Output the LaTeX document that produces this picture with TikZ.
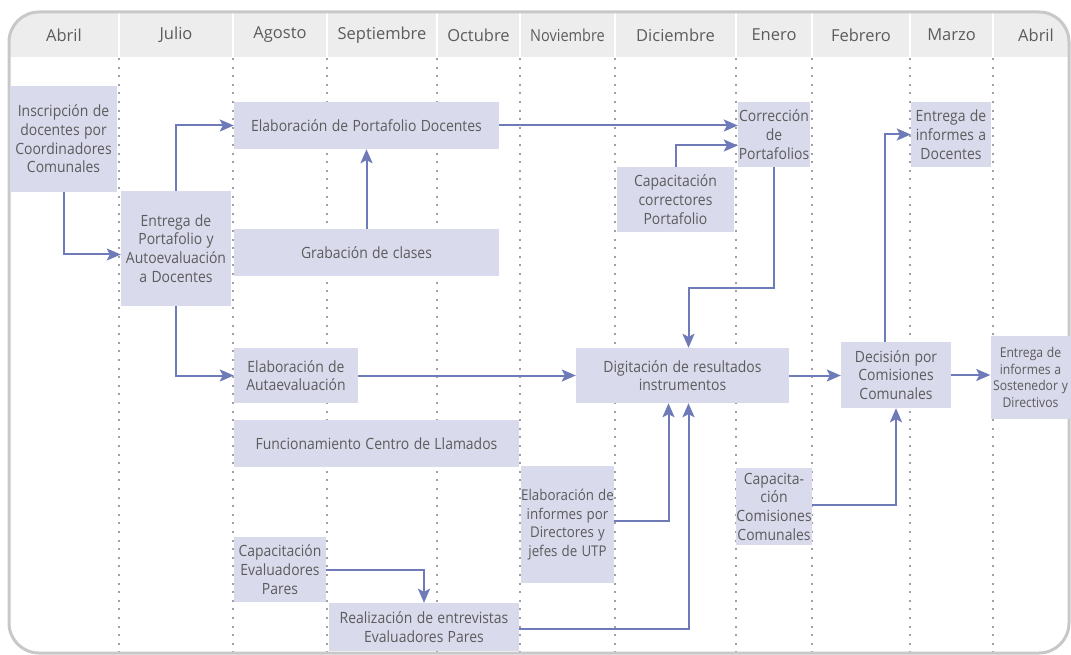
\documentclass[tikz,border=0pt]{standalone}
\usepackage{fontspec}
\setmainfont{Open Sans}
\newfontfamily\boxfont{Open Sans}[FakeStretch=0.9,WordSpace=1.2]
\newfontfamily\novfont{Open Sans}[FakeStretch=0.88]
\usepackage{tikz}
\usetikzlibrary{arrows.meta}
\definecolor{boxfill}{HTML}{D9DAEB}
\definecolor{flowblue}{HTML}{6E7BB8}
\definecolor{txtgray}{HTML}{5C5C5E}
\definecolor{headgray}{HTML}{ECEDEC}
\definecolor{framegray}{HTML}{C8C8C8}
\definecolor{dotgray}{HTML}{A0A0A0}

\begin{document}
\begin{tikzpicture}[x=1pt,y=-1pt,
    box/.style={fill=boxfill,text=txtgray,align=center,inner sep=0pt,
        font=\boxfont\fontsize{15.5}{18.7}\selectfont},
    flow/.style={flowblue,line width=2pt,-{Stealth[length=14pt,width=12pt,inset=3pt]}},
    month/.style={text=txtgray,font=\fontsize{16.5}{18}\selectfont},
    dotline/.style={dotgray,line width=2pt,dash pattern=on 2pt off 6.6pt}]
        \clip (0,0) rectangle (1071,655);
        % draw the header band
        \fill[headgray,rounded corners=30pt] (9,57) -- (9,12) -- (1069,12) -- (1069,57);
        \foreach \x in {119,233,327,437,520,615,736,812,910,993} {
                % white separators in the header
                \draw[white,line width=1.5pt] (\x,12) -- (\x,57);
                % dotted month borders
                \draw[dotline] (\x,58) -- (\x,655);
                }
        \foreach \x/\m [count=\i] in {
            64/Abril, 176/Julio, 280/Agosto, 382/Septiembre, 478.5/Octubre,
            567.5/{\novfont Noviembre}, 675.5/Diciembre, 774/Enero,
            861/Febrero, 951.5/Marzo, 1036/Abril}
                \node[month] (month\i) at (\x,35) {\m};
        % draw the frame
        \draw[framegray,line width=3pt,rounded corners=30pt] (9,12) rectangle (1069,653);
        % draw the activities
        \node[box,minimum width=107pt,minimum height=106pt] (insc) at (63.5,139)
            {Inscripción de\\docentes por\\Coordinadores\\Comunales};
        \node[box,minimum width=110pt,minimum height=115pt] (entrega) at (176,248.5)
            {Entrega de\\Portafolio y\\Autoevaluación\\a Docentes};
        \node[box,minimum width=265pt,minimum height=47pt] (elabport) at (366.5,125.5)
            {Elaboración de Portafolio Docentes};
        \node[box,minimum width=265pt,minimum height=47pt] (grab) at (366.5,252.5)
            {Grabación de clases};
        \node[box,minimum width=124pt,minimum height=55pt] (autoeval) at (296,375.5)
            {Elaboración de\\Autaevaluación};
        \node[box,minimum width=285pt,minimum height=47pt] (llamados) at (376.5,443.5)
            {Funcionamiento Centro de Llamados};
        \node[box,minimum width=92pt,minimum height=65pt] (capeval) at (280,569.5)
            {Capacitación\\Evaluadores\\Pares};
        \node[box,minimum width=190pt,minimum height=48pt] (realiz) at (424,627)
            {Realización de entrevistas\\Evaluadores Pares};
        \node[box,minimum width=91pt,minimum height=117pt,
            font=\boxfont\fontsize{14.8}{18.7}\selectfont] (informes) at (567.5,524.5)
            {Elaboración de\\informes por\\Directores y\\jefes de UTP};
        \node[box,minimum width=213pt,minimum height=55pt] (digit) at (682.5,375.5)
            {Digitación de resultados\\instrumentos};
        \node[box,minimum width=117pt,minimum height=65pt] (capcorr) at (675.5,199.5)
            {Capacitación\\correctores\\Portafolio};
        \node[box,minimum width=72pt,minimum height=65pt] (correc) at (774,134.5)
            {Corrección\\de\\Portafolios};
        \node[box,minimum width=72pt,minimum height=77pt] (capcom) at (774,506.5)
            {Capacita-\\ción\\Comisiones\\Comunales};
        \node[box,minimum width=110pt,minimum height=66pt] (decis) at (896,375)
            {Decisión por\\Comisiones\\Comunales};
        \node[box,minimum width=80pt,minimum height=65pt] (entdoc) at (951,134.5)
            {Entrega de\\informes a\\Docentes};
        \node[box,minimum width=80pt,minimum height=83pt,
            font=\boxfont\fontsize{13.5}{16.5}\selectfont] (sosten) at (1030.5,377.5)
            {Entrega de\\informes a\\Sostenedor y\\Directivos};
        % draw the arrows
        \draw[flow] (insc.south) |- ([yshift=-6pt]entrega.west);
        \draw[flow] (entrega.north) |- (elabport.west);
        \draw[flow] (entrega.south) |- (autoeval.west);
        \draw[flow] (grab.north) -- (elabport.south);
        \draw[flow] (elabport.east) -- (elabport.east -| correc.west);
        \draw[flow] (capcorr.north) |- ([yshift=-11pt]correc.west);
        \draw[flow] (correc.south) -- ++(0,121) -| ([xshift=6pt]digit.north);
        \draw[flow] (autoeval.east) -- (autoeval.east -| digit.west);
        \draw[flow] ([yshift=4pt]informes.east) -| ([xshift=-14pt]digit.south);
        \draw[flow] ([yshift=-2pt]realiz.east) -| ([xshift=6pt]digit.south);
        \draw[flow] (capeval.east) -| (realiz.north);
        \draw[flow] (digit.east) -- (digit.east -| decis.west);
        \draw[flow] (decis.east) -- (decis.east -| sosten.west);
        \draw[flow] ([yshift=2pt]capcom.east) -| (decis.south);
        \draw[flow] ([xshift=-11pt]decis.north) |- (entdoc.west);
\end{tikzpicture}
\end{document}
